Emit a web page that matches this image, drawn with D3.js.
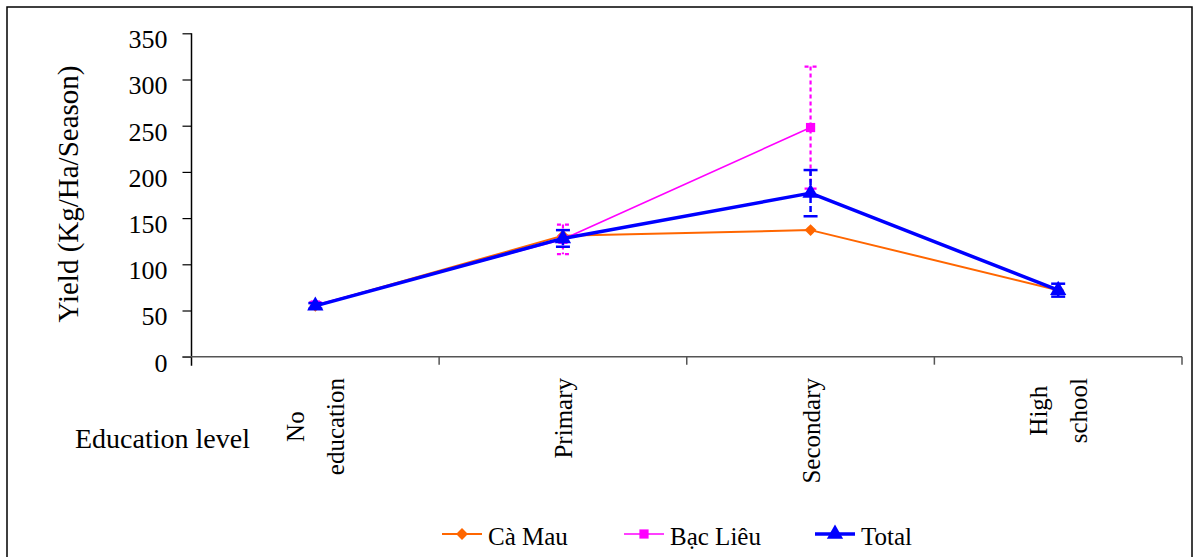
<!DOCTYPE html>
<html>
<head>
<meta charset="utf-8">
<script src="https://cdn.jsdelivr.net/npm/d3@7"></script>
<style>
  body { margin: 0; background: #fff; }
  svg text { font-family: "Times New Roman", "Liberation Serif", "DejaVu Serif", serif; fill: #000; }
</style>
</head>
<body>
<svg id="chart" width="1194" height="557"></svg>
<script>
// data
const categories = ['No education', 'Primary', 'Secondary', 'High school'];
const caMau = [55, 131, 137, 72];
const bacLieu = [56, 127, 248, null];
const bacLieuErr = [3, 16, 66, null];
const total = [55, 128, 177, 72];
const totalErr = [3, 9, 25, 7];
const yTicks = [0, 50, 100, 150, 200, 250, 300, 350];
const yAxisLabel = 'Yield (Kg/Ha/Season)';
const xAxisLabel = 'Education level';

const svg = d3.select('#chart');
const margin = {left: 191.5, right: 12, top: 33.3, bottom: 200.3};
const width = +svg.attr('width');
const height = +svg.attr('height');
const serif = '"Times New Roman", "Liberation Serif", "DejaVu Serif", serif';

// outer frame
svg.append('rect')
    .attr('x', 7).attr('y', 7)
    .attr('width', 1185).attr('height', 560)
    .attr('fill', 'none').attr('stroke', '#000').attr('stroke-width', 1.5);

const xScale = d3.scaleBand().domain(categories).range([margin.left, width - margin.right]);
const yScale = d3.scaleLinear().domain([0, 350]).range([height - margin.bottom, margin.top]);
const xMid = c => xScale(c) + xScale.bandwidth() / 2;

// y axis
const yAxisG = svg.append('g').attr('transform', `translate(${margin.left},0)`);
yAxisG.call(d3.axisLeft(yScale).tickValues(yTicks).tickSize(9).tickPadding(15));
yAxisG.attr('font-family', serif);
yAxisG.select('.domain').attr('stroke', '#000').attr('stroke-width', 1.5)
    .attr('d', `M0,${yScale(350)}V${yScale(0) + 9}`);
yAxisG.selectAll('.tick line').attr('stroke', '#000').attr('stroke-width', 1.2);
yAxisG.selectAll('.tick text')
    .attr('font-size', 26).attr('dy', '0.55em');

svg.append('text')
    .attr('transform', `translate(78, 194) rotate(-90)`)
    .attr('text-anchor', 'middle')
    .attr('font-size', 29)
    .text(yAxisLabel);

// x axis
const y0 = yScale(0);
svg.append('line')
    .attr('x1', margin.left - 9).attr('x2', width - margin.right)
    .attr('y1', y0).attr('y2', y0)
    .attr('stroke', '#555').attr('stroke-width', 1.5);
const bounds = d3.range(categories.length + 1).map(i => margin.left + i * xScale.step());
svg.selectAll('.xtick').data(bounds.slice(1)).enter().append('line')
    .attr('class', 'xtick')
    .attr('x1', d => d).attr('x2', d => d)
    .attr('y1', y0).attr('y2', y0 + 8)
    .attr('stroke', '#555').attr('stroke-width', 1.5);

const labelTop = 378;
categories.forEach(c => {
    const lines = c.split(' ');
    const g = svg.append('g').attr('transform', `translate(${xMid(c)}, ${labelTop}) rotate(-90)`);
    const texts = lines.map((ln, i) => g.append('text')
        .attr('font-size', 25)
        .attr('text-anchor', 'middle')
        .attr('y', (i - (lines.length - 1) / 2) * 40 + 9)
        .text(ln));
    const maxLen = d3.max(texts, t => t.node().getComputedTextLength());
    texts.forEach(t => t.attr('x', -maxLen / 2));
});

svg.append('text')
    .attr('x', 75).attr('y', 448)
    .attr('font-size', 28)
    .text(xAxisLabel);

// series
const lineGen = d3.line()
    .defined(d => d.v != null)
    .x(d => xMid(d.c))
    .y(d => yScale(d.v));
const pts = arr => categories.map((c, i) => ({c: c, v: arr[i]}));

function errorBars(vals, errs, color, dash, capDash, capW, sw) {
    const g = svg.append('g');
    categories.forEach((c, i) => {
        if (vals[i] == null || errs[i] == null) return;
        const x = xMid(c);
        const top = yScale(vals[i] + errs[i]);
        const bot = yScale(vals[i] - errs[i]);
        g.append('line').attr('x1', x).attr('x2', x).attr('y1', top).attr('y2', bot)
            .attr('stroke', color).attr('stroke-width', sw).attr('stroke-dasharray', dash);
        [top, bot].forEach(y => g.append('line')
            .attr('x1', x - capW / 2).attr('x2', x + capW / 2).attr('y1', y).attr('y2', y)
            .attr('stroke', color).attr('stroke-width', sw)
            .attr('stroke-dasharray', capDash));
    });
}

const diamond = d3.symbol().type(d3.symbolDiamond2).size(90);
const square = d3.symbol().type(d3.symbolSquare).size(85);
const triangle = d3.symbol().type(d3.symbolTriangle).size(115);

function series(vals, color, sw, sym) {
    svg.append('path').datum(pts(vals))
        .attr('d', lineGen).attr('fill', 'none')
        .attr('stroke', color).attr('stroke-width', sw).attr('stroke-linejoin', 'round');
    svg.append('g').selectAll('path').data(pts(vals).filter(d => d.v != null)).enter()
        .append('path')
        .attr('transform', d => `translate(${xMid(d.c)},${yScale(d.v)})`)
        .attr('d', sym).attr('fill', color);
}

series(caMau, '#FF6600', 2, diamond);
errorBars(bacLieu, bacLieuErr, '#FF00FF', '4,3', '4,4', 12, 2.2);
series(bacLieu, '#FF00FF', 1.6, square);
errorBars(total, totalErr, '#0000FF', '6,3', null, 14, 2.5);
series(total, '#0000FF', 3.5, triangle);

// legend
const legend = [
    {name: 'Cà Mau', color: '#FF6600', sw: 2, sym: diamond, x: 442},
    {name: 'Bạc Liêu', color: '#FF00FF', sw: 1.6, sym: square, x: 624},
    {name: 'Total', color: '#0000FF', sw: 3.5, sym: triangle, x: 815}
];
const lg = svg.append('g').selectAll('g').data(legend).enter().append('g')
    .attr('transform', d => `translate(${d.x}, 534)`);
lg.append('line').attr('x1', 0).attr('x2', 40).attr('y1', 0).attr('y2', 0)
    .attr('stroke', d => d.color).attr('stroke-width', d => d.sw);
lg.append('path').attr('transform', 'translate(20,0)')
    .attr('d', d => d.sym()).attr('fill', d => d.color);
lg.append('text').attr('x', 46).attr('y', 11)
    .attr('font-size', 25).text(d => d.name);
</script>
</body>
</html>
